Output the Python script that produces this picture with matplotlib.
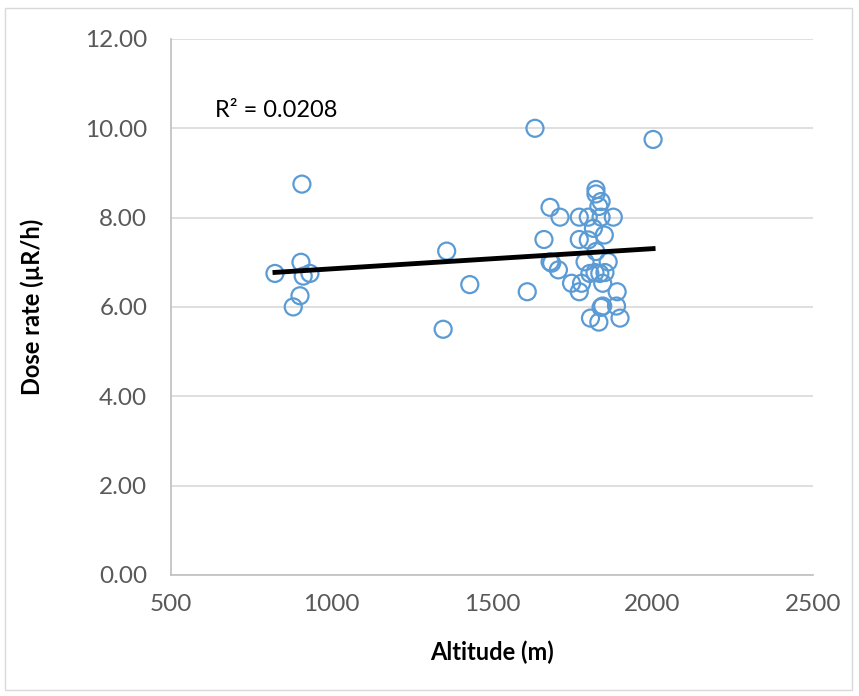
import numpy as np
import matplotlib.pyplot as plt
from matplotlib.patches import Rectangle

plt.rcParams['font.family'] = ['Lato', 'DejaVu Sans']

# altitude (m) and dose rate (uR/h)
altitude = [824, 908, 905, 912, 933, 902, 881, 1359, 1348, 1431,
            1634, 2002, 1824, 1824, 1840, 1833, 1681, 1712, 1772, 1800,
            1840, 1878, 1816, 1850, 1662, 1772, 1800, 1824, 1790, 1862,
            1681, 1686, 1707, 1821, 1852, 1836, 1805, 1845, 1748, 1779,
            1772, 1890, 1610, 1845, 1888, 1840, 1807, 1899, 1833]
dose_rate = [6.75, 8.75, 7.00, 6.69, 6.75, 6.25, 6.00, 7.25, 5.50, 6.50,
             10.00, 9.75, 8.63, 8.53, 8.36, 8.25, 8.23, 8.01, 8.01, 8.01,
             8.01, 8.01, 7.76, 7.61, 7.51, 7.51, 7.50, 7.24, 7.01, 7.01,
             7.01, 6.98, 6.83, 6.77, 6.77, 6.75, 6.75, 6.53, 6.53, 6.53,
             6.34, 6.34, 6.34, 6.02, 6.02, 5.99, 5.75, 5.75, 5.66]
r2_label = "R\u00b2 = 0.0208"

fig = plt.figure(figsize=(8.59, 6.96), dpi=100)
ax = fig.add_axes([0.199, 0.174, 0.7474, 0.77])

# outer chart border
fig.patches.append(Rectangle((0.006, 0.009), 0.986, 0.979, transform=fig.transFigure,
                             fill=False, edgecolor='#d9d9d9', linewidth=1))

ax.scatter(altitude, dose_rate, s=150, facecolors='none',
           edgecolors='#5b9bd5', linewidths=1.6, zorder=3)

# linear trendline
coef = np.polyfit(altitude, dose_rate, 1)
xs = np.array([min(altitude), max(altitude)])
ax.plot(xs, np.polyval(coef, xs), color='black', linewidth=3.5, zorder=4)

ax.text(637, 10.25, r2_label, fontsize=17, color='black', va='baseline')

ax.set_xlim(500, 2500)
ax.set_ylim(0, 12)
ax.set_xticks(range(500, 2501, 500))
ax.set_yticks(np.arange(0, 12.1, 2))
ax.set_yticklabels([f"{v:.2f}" for v in np.arange(0, 12.1, 2)])
ax.yaxis.grid(True, color='#d9d9d9', linewidth=1.2)
ax.set_axisbelow(True)
ax.tick_params(length=0, labelsize=17.5, labelcolor='#595959')
ax.tick_params(axis='y', pad=17)
ax.tick_params(axis='x', pad=14)

for s in ['top', 'right']:
    ax.spines[s].set_visible(False)
ax.spines['left'].set_color('#bfbfbf')
ax.spines['bottom'].set_color('#bfbfbf')
ax.spines['left'].set_linewidth(1.2)
ax.spines['bottom'].set_linewidth(1.2)

ax.set_xlabel("Altitude (m)", fontsize=17, fontweight='bold', va='center')
ax.set_ylabel("Dose rate (\u00b5R/h)", fontsize=17, fontweight='bold', va='center')
ax.xaxis.set_label_coords(0.5, -0.1437)
ax.yaxis.set_label_coords(-0.2165, 0.5)

fig.savefig('out.png', dpi=100)
